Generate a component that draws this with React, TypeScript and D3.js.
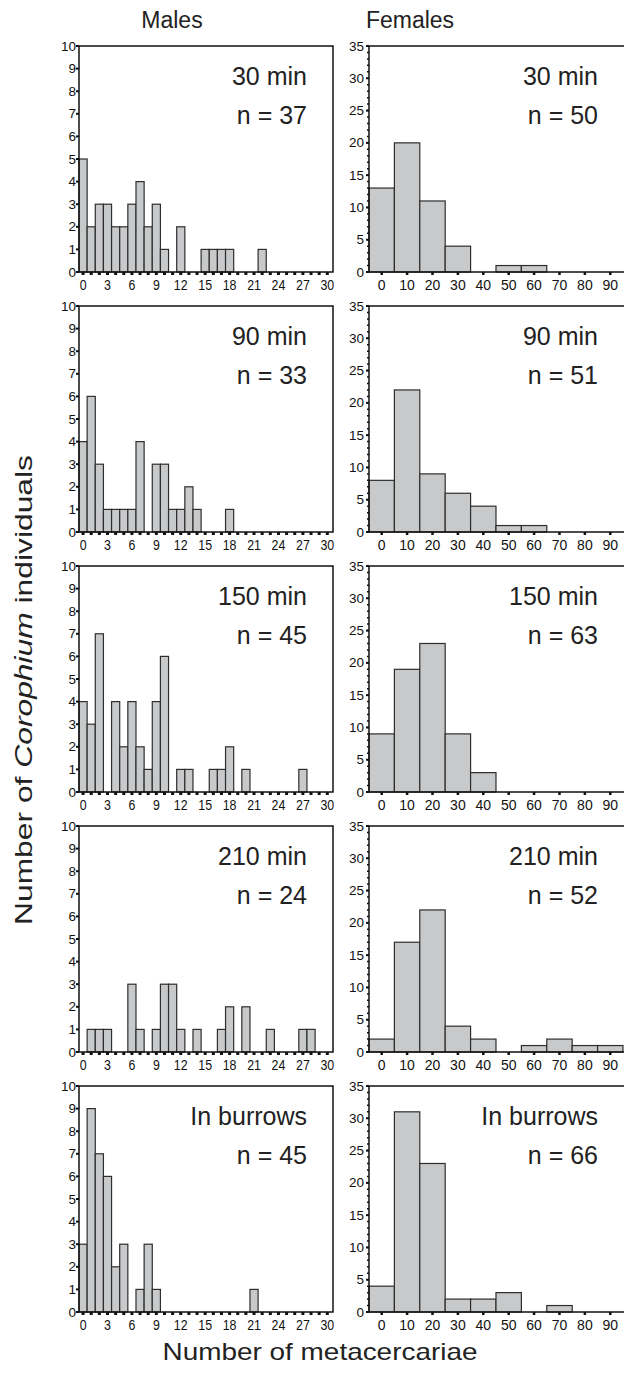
import * as d3 from "d3";
import React, { useRef, useEffect } from "react";

// counts per bin, males: 0..30 metacercariae (bin width 1)
const male30 = [5, 2, 3, 3, 2, 2, 3, 4, 2, 3, 1, 0, 2, 0, 0, 1, 1, 1, 1, 0, 0, 0, 1, 0, 0, 0, 0, 0, 0, 0, 0];
const male90 = [4, 6, 3, 1, 1, 1, 1, 4, 0, 3, 3, 1, 1, 2, 1, 0, 0, 0, 1, 0, 0, 0, 0, 0, 0, 0, 0, 0, 0, 0, 0];
const male150 = [4, 3, 7, 0, 4, 2, 4, 2, 1, 4, 6, 0, 1, 1, 0, 0, 1, 1, 2, 0, 1, 0, 0, 0, 0, 0, 0, 1, 0, 0, 0];
const male210 = [0, 1, 1, 1, 0, 0, 3, 1, 0, 1, 3, 3, 1, 0, 1, 0, 0, 1, 2, 0, 2, 0, 0, 1, 0, 0, 0, 1, 1, 0, 0];
const maleBurrow = [3, 9, 7, 6, 2, 3, 0, 1, 3, 1, 0, 0, 0, 0, 0, 0, 0, 0, 0, 0, 0, 1, 0, 0, 0, 0, 0, 0, 0, 0, 0];

// counts per bin, females: bins centred on 0,10,..,90
const female30 = [13, 20, 11, 4, 0, 1, 1, 0, 0, 0];
const female90 = [8, 22, 9, 6, 4, 1, 1, 0, 0, 0];
const female150 = [9, 19, 23, 9, 3, 0, 0, 0, 0, 0];
const female210 = [2, 17, 22, 4, 2, 0, 1, 2, 1, 1];
const femaleBurrow = [4, 31, 23, 2, 2, 3, 0, 1, 0, 0];

const panelNames = ["30 min", "90 min", "150 min", "210 min", "In burrows"];
const maleN = [37, 33, 45, 24, 45];
const femaleN = [50, 51, 63, 52, 66];

const maleXTicks = [0, 3, 6, 9, 12, 15, 18, 21, 24, 27, 30];
const femaleXTicks = [0, 10, 20, 30, 40, 50, 60, 70, 80, 90];
const maleYTicks = [0, 1, 2, 3, 4, 5, 6, 7, 8, 9, 10];
const femaleYTicks = [0, 5, 10, 15, 20, 25, 30, 35];

const maleSets = [male30, male90, male150, male210, maleBurrow];
const femaleSets = [female30, female90, female150, female210, femaleBurrow];

const FONT = "'Liberation Sans', Arial, Helvetica, sans-serif";

function Histograms() {
    const ref = useRef(null);

    useEffect(() => {
        const svg = d3.select(ref.current);
        svg.selectAll("*").remove();

        const top0 = 46;
        const step = 260;
        const ph = 226;
        const mLeft = 79;
        const fLeft = 369;

        const y = (max) => d3.scaleLinear().domain([0, max]).range([ph, 0]);

        function panel(g, opt) {
            const { counts, binW, xDomain, pw, yMax, xTicks, yTicks, yMinor, name, n, male } = opt;
            const x = d3.scaleLinear().domain(xDomain).range([0, pw]);
            const yy = y(yMax);

            g.selectAll(".bar")
                .data(counts.map((c, i) => ({ c, v: i * binW })).filter(d => d.c > 0))
                .enter().append("rect")
                .attr("x", d => x(d.v - binW / 2))
                .attr("width", d => x(d.v + binW / 2) - x(d.v - binW / 2))
                .attr("y", d => yy(d.c))
                .attr("height", d => ph - yy(d.c))
                .attr("fill", "#c8c9cb")
                .attr("stroke", "#2e2e2e")
                .attr("stroke-width", 1.2);

            // frame
            g.append("rect")
                .attr("width", pw).attr("height", ph)
                .attr("fill", "none").attr("stroke", "#111").attr("stroke-width", 1.5);

            const xa = g.append("g").attr("transform", `translate(0,${ph})`);
            xa.selectAll("line")
                .data(male ? d3.range(0, 31) : xTicks)
                .enter().append("line")
                .attr("x1", d => x(d)).attr("x2", d => x(d))
                .attr("y1", 0).attr("y2", 3)
                .attr("stroke", "#111").attr("stroke-width", male ? 3 : 2.5);
            xa.selectAll("text")
                .data(xTicks)
                .enter().append("text")
                .attr("transform", d => `translate(${x(d)},17.5)` + (male ? " scale(0.8,1)" : ""))
                .attr("text-anchor", "middle")
                .attr("font-size", male ? 15.5 : 14)
                .attr("fill", "#111")
                .text(d => d);

            const ya = g.append("g");
            ya.selectAll("line.my")
                .data(yMinor)
                .enter().append("line")
                .attr("class", "my")
                .attr("x1", -2).attr("x2", 0)
                .attr("y1", d => yy(d)).attr("y2", d => yy(d))
                .attr("stroke", "#111").attr("stroke-width", 1.5);
            ya.selectAll("line.major")
                .data(yTicks)
                .enter().append("line")
                .attr("class", "major")
                .attr("x1", -3).attr("x2", 0)
                .attr("y1", d => yy(d)).attr("y2", d => yy(d))
                .attr("stroke", "#111").attr("stroke-width", 2);
            ya.selectAll("text")
                .data(yTicks)
                .enter().append("text")
                .attr("x", male ? -3 : -5).attr("y", d => yy(d) + 4.5)
                .attr("text-anchor", "end")
                .attr("font-size", 13.5)
                .attr("fill", "#111")
                .text(d => d);

            const right = male ? pw - 26 : 229;
            g.append("text")
                .attr("x", right).attr("y", 39)
                .attr("text-anchor", "end")
                .attr("font-size", 25)
                .attr("fill", "#222")
                .text(name);
            g.append("text")
                .attr("x", right).attr("y", 78)
                .attr("text-anchor", "end")
                .attr("font-size", 25)
                .attr("fill", "#222")
                .text(`n = ${n}`);
        }

        svg.attr("font-family", FONT);

        panelNames.forEach((name, i) => {
            const gm = svg.append("g").attr("transform", `translate(${mLeft},${top0 + i * step})`);
            panel(gm, {
                counts: maleSets[i], binW: 1, xDomain: [-0.5, 30.7], pw: 254, yMax: 10,
                xTicks: maleXTicks, yTicks: maleYTicks, yMinor: [], name, n: maleN[i], male: true
            });
            const gf = svg.append("g").attr("transform", `translate(${fLeft},${top0 + i * step})`);
            panel(gf, {
                counts: femaleSets[i], binW: 10, xDomain: [-5, 95.8], pw: 256, yMax: 35,
                xTicks: femaleXTicks, yTicks: femaleYTicks, yMinor: d3.range(0, 36), name, n: femaleN[i], male: false
            });
        });

        svg.append("text")
            .attr("x", 172).attr("y", 28)
            .attr("text-anchor", "middle").attr("font-size", 23).attr("fill", "#222")
            .text("Males");
        svg.append("text")
            .attr("x", 410).attr("y", 28)
            .attr("text-anchor", "middle").attr("font-size", 23).attr("fill", "#222")
            .text("Females");

        svg.append("text")
            .attr("x", 320).attr("y", 1360)
            .attr("text-anchor", "middle").attr("font-size", 24).attr("fill", "#222")
            .attr("textLength", 315).attr("lengthAdjust", "spacingAndGlyphs")
            .text("Number of metacercariae");

        const yl = svg.append("text")
            .attr("transform", "translate(32,690) rotate(-90)")
            .attr("text-anchor", "middle").attr("font-size", 24).attr("fill", "#222")
            .attr("textLength", 470).attr("lengthAdjust", "spacingAndGlyphs");
        yl.append("tspan").text("Number of ");
        yl.append("tspan").attr("font-style", "italic").text("Corophium");
        yl.append("tspan").text(" individuals");
    }, []);

    return <svg ref={ref} width={624} height={1373} style={{ position: "absolute", left: 0, top: 0, background: "#fff" }} />;
}

export default function App() {
    return <Histograms />;
}
